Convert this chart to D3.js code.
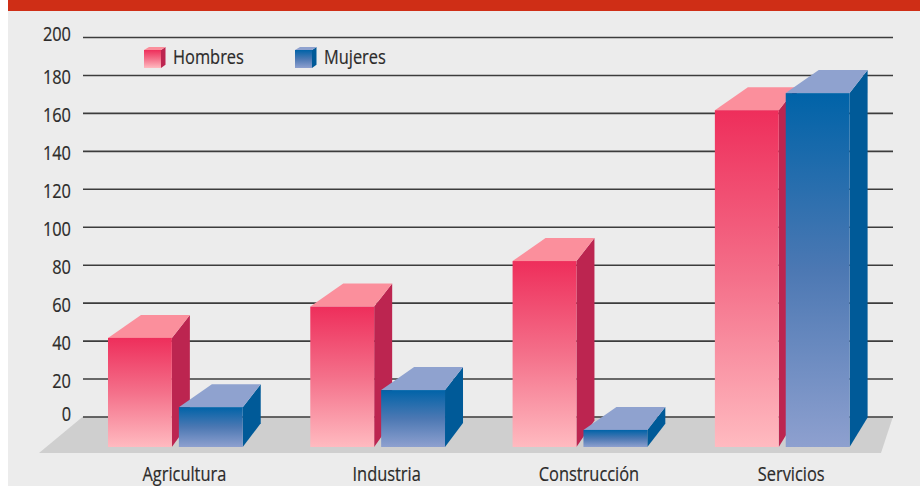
<!DOCTYPE html>
<html>
<head>
<meta charset="utf-8">
<script src="https://cdn.jsdelivr.net/npm/d3@7"></script>
<style>
  html, body { margin: 0; padding: 0; background: #fff; }
  text { font-family: "Open Sans", "Noto Sans", sans-serif; fill: #2b2a29; stroke: #2b2a29; stroke-width: 0.2; }
</style>
</head>
<body>
<div id="chart"></div>
<script>
let categories = ['Agricultura', 'Industria', 'Construcción', 'Servicios'];
let seriesNames = ['Hombres', 'Mujeres'];
// bar heights counted from the floor of the 3D box
let hombres = [57.5, 74, 98, 177.5];
let mujeres = [21, 30, 9, 186.5];
let tickValues = [0, 20, 40, 60, 80, 100, 120, 140, 160, 180, 200];

let width = 920, height = 487;
let left = 83, right = 893;
let wallZero = 416.5, wallTop = 37;
let floorFront = 453, baseFront = 447;
// 3D offsets of the bars
let depthX = 18, depthY = 23, backInset = 33;
// the original type is condensed, squeeze it sideways
let squeeze = 0.8, fontSize = 20.5;

let colors = {
  Hombres: { top: '#fb8f9c', side: '#bc2550', from: '#ee2e5b', mid: '#f4708a', to: '#ffbac0' },
  Mujeres: { top: '#8fa2cf', side: '#005a98', from: '#0063a8', mid: '#4c78b3', to: '#8ea0cf' }
};

let svg = d3.select('#chart').append('svg')
  .attr('width', width)
  .attr('height', height)
  .style('display', 'block');

let defs = svg.append('defs');
seriesNames.forEach(function (name) {
  let grad = defs.append('linearGradient')
    .attr('id', 'grad-' + name)
    .attr('x1', 0).attr('y1', 0).attr('x2', 0).attr('y2', 1);
  grad.append('stop').attr('offset', 0).attr('stop-color', colors[name].from);
  grad.append('stop').attr('offset', 0.5).attr('stop-color', colors[name].mid);
  grad.append('stop').attr('offset', 1).attr('stop-color', colors[name].to);
});

// background
svg.append('rect').attr('x', 8).attr('y', 0).attr('width', width - 8).attr('height', 486).attr('fill', '#ececec');
svg.append('rect').attr('x', 8).attr('y', 0).attr('width', width - 8).attr('height', 11).attr('fill', '#cf2e16');

let yScale = d3.scaleLinear().domain([0, 200]).range([wallZero, wallTop]);
// same scale moved down to the front edge of the bars
let yBar = d3.scaleLinear().domain([0, 200]).range([baseFront, baseFront - (wallZero - wallTop)]);

let xScale = d3.scaleBand()
  .domain(categories)
  .range([108, 867.6])
  .paddingInner(0.245)
  .paddingOuter(0);
let xInner = d3.scaleBand()
  .domain(seriesNames)
  .range([0, xScale.bandwidth() - depthX])
  .paddingInner(0.0986)
  .paddingOuter(0);

// floor
svg.append('path')
  .attr('d', d3.line()([[left, wallZero], [right, wallZero], [right - 12, floorFront], [left - 44, floorFront]]) + 'Z')
  .attr('fill', '#cfcfcf');

// axis and grid lines
let yAxis = d3.axisLeft(yScale)
  .tickValues(tickValues)
  .tickSize(-(right - left))
  .tickFormat('');

let axisG = svg.append('g')
  .attr('class', 'y-axis')
  .attr('transform', `translate(${left}, 0)`)
  .call(yAxis);
axisG.select('.domain').remove();
axisG.selectAll('.tick line').attr('stroke', '#3c3c3c').attr('stroke-width', 1.6);

// tick labels, the top and bottom ones sit a little above their lines
axisG.selectAll('.tick text').remove();
axisG.selectAll('.tick').append('text')
  .attr('transform', d => `translate(-12, ${(d === 0 || d === 200) ? 3.5 : 8.5}) scale(${squeeze}, 1)`)
  .attr('text-anchor', 'end')
  .attr('font-size', fontSize)
  .text(d => d);

// one 3D box: side, top and front faces
function drawBox(g, x, w, yTop, yBase, name, dx, dy, inset) {
  let c = colors[name];
  // tall bars lean a bit more at the foot of the side face
  let footDy = dy + 7 * (yBase - yTop) / (wallZero - wallTop);
  g.append('path')
    .attr('d', d3.line()([[x + w, yTop], [x + w + dx, yTop - dy], [x + w + dx, yBase - footDy], [x + w, yBase]]) + 'Z')
    .attr('fill', c.side);
  g.append('path')
    .attr('d', d3.line()([[x, yTop], [x + inset, yTop - dy], [x + w + dx, yTop - dy], [x + w, yTop]]) + 'Z')
    .attr('fill', c.top);
  g.append('rect')
    .attr('x', x).attr('y', yTop)
    .attr('width', w).attr('height', yBase - yTop)
    .attr('fill', `url(#grad-${name})`);
}

// bars
let barsG = svg.append('g').attr('class', 'bars');
categories.forEach(function (cat, i) {
  let g = barsG.append('g').attr('transform', `translate(${xScale(cat)}, 0)`);
  drawBox(g, xInner('Hombres'), xInner.bandwidth(), yBar(hombres[i]), yBar(0), 'Hombres', depthX, depthY, backInset);
  drawBox(g, xInner('Mujeres'), xInner.bandwidth(), yBar(mujeres[i]), yBar(0), 'Mujeres', depthX, depthY, backInset);
});

// category labels
svg.append('g').selectAll('text')
  .data(categories)
  .join('text')
  .attr('transform', d => `translate(${xScale(d) + xScale.bandwidth() / 2}, 481) scale(${squeeze}, 1)`)
  .attr('text-anchor', 'middle')
  .attr('font-size', fontSize)
  .text(d => d);

// legend
let legendX = d3.scalePoint().domain(seriesNames).range([144, 295]);
seriesNames.forEach(function (name) {
  let g = svg.append('g').attr('transform', `translate(${legendX(name)}, 0)`);
  drawBox(g, 0, 17, 50, 68, name, 4.5, 3, 5);
  g.append('text')
    .attr('transform', `translate(29, 64) scale(${squeeze}, 1)`)
    .attr('font-size', fontSize)
    .text(name);
});
</script>
</body>
</html>
